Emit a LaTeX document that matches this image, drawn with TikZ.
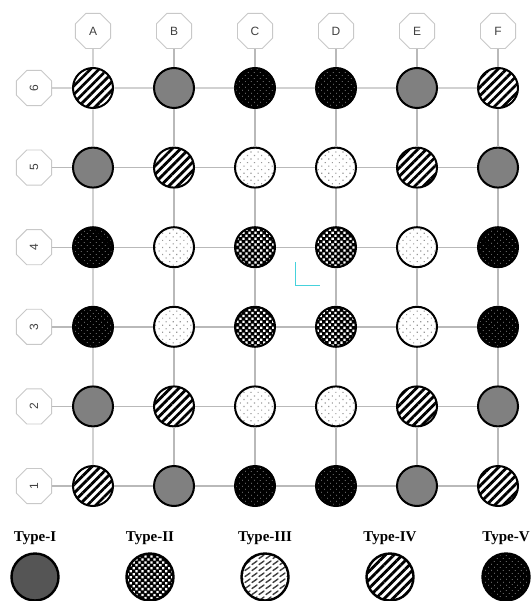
\documentclass[tikz,border=0pt]{standalone}
\usepackage{fontspec}
\setmainfont{Liberation Serif}
\setsansfont{Liberation Sans}
\usetikzlibrary{shapes.geometric,patterns,patterns.meta}
\definecolor{GridGrey}{RGB}{185,185,185}
\definecolor{LabelGrey}{RGB}{200,200,200}
\definecolor{PileGrey}{RGB}{128,128,128}
\definecolor{PileDark}{RGB}{85,85,85}
\definecolor{UcsCyan}{RGB}{70,210,220}
% short smeared strokes for the legend Type-III symbol
\pgfdeclarepatternformonly{smears}{\pgfqpoint{-1pt}{-1pt}}{\pgfqpoint{8pt}{7pt}}{\pgfqpoint{7pt}{6pt}}{%
  \pgfsetlinewidth{1.4pt}\pgfsetroundcap
  \pgfpathmoveto{\pgfqpoint{0pt}{0.5pt}}
  \pgfpathcurveto{\pgfqpoint{1.5pt}{3pt}}{\pgfqpoint{3pt}{1pt}}{\pgfqpoint{5pt}{4pt}}
  \pgfusepath{stroke}}
\tikzset{
  pile/.style={circle,draw=black,line width=2pt,minimum size=40pt,inner sep=0pt},
  axislbl/.style={regular polygon,regular polygon sides=8,draw=LabelGrey,line width=0.9pt,
                  minimum size=38pt,inner sep=0pt,text=black!75,
                  font=\sffamily\fontsize{12}{12}\selectfont},
  gridline/.style={GridGrey,line width=1.4pt},
  legendtxt/.style={font=\bfseries\fontsize{15}{15}\selectfont},
  typeI/.style={fill=PileGrey},
  typeII/.style={preaction={fill=black},pattern={Dots[distance=4.2pt,radius=1.6pt,angle=45]},pattern color=white},
  typeIII/.style={preaction={fill=white},pattern={Dots[distance=5pt,radius=0.8pt,angle=45]},pattern color=gray!80},
  typeIV/.style={preaction={fill=white},pattern={Lines[angle=45,distance=6pt,line width=2.8pt]},pattern color=black},
  typeV/.style={preaction={fill=black},pattern={Dots[distance=4pt,radius=0.5pt,angle=45]},pattern color=gray!70},
}
\begin{document}
\begin{tikzpicture}[x=1pt,y=-1pt]
  \useasboundingbox (0,0) rectangle (530,601);
  % Piles, one row at a time
  \foreach \r/\y/\types in {6/88/{IV,I,V,V,I,IV},5/167.6/{I,IV,III,III,IV,I},
                            4/247.2/{V,III,II,II,III,V},3/326.8/{V,III,II,II,III,V},
                            2/406.4/{I,IV,III,III,IV,I},1/486/{IV,I,V,V,I,IV}}{
    \foreach \t [count=\i] in \types
      \node[pile,type\t] (p\i\r) at ({12+81*\i},\y) {};
    \node[axislbl,rotate=90] (row\r) at (34,\y) {\r};
  }
  % Axis labels on top
  \foreach \c [count=\i] in {A,B,C,D,E,F}
    \node[axislbl] (col\i) at ({12+81*\i},31) {\c};
  % Grid lines
  \foreach \r in {1,...,6}
    \draw[gridline] (row\r) -- (p1\r) -- (p2\r) -- (p3\r) -- (p4\r) -- (p5\r) -- (p6\r);
  \foreach \i in {1,...,6}
    \draw[gridline] (col\i) -- (p\i6) -- (p\i5) -- (p\i4) -- (p\i3) -- (p\i2) -- (p\i1);
  % UCS marker
  \coordinate (ucsO) at (295,285);
  \coordinate (ucsY) at (295,262);
  \coordinate (ucsX) at (320,285);
  \draw[UcsCyan,line width=0.8pt] (ucsY) -- (ucsO) -- (ucsX);
  % Legend
  \foreach \t/\x in {I/35,II/150,III/265,IV/390,V/506}
    \node[legendtxt] (lbl\t) at (\x,538) {Type-\t};
  \node[pile,minimum size=47pt,line width=2.4pt,fill=PileDark] (legI) at (35,577) {};
  \node[pile,minimum size=47pt,line width=2.4pt,typeII] (legII) at (150,577) {};
  \node[pile,minimum size=47pt,line width=2.4pt,preaction={fill=white},pattern=smears,pattern color=black!75] (legIII) at (265,577) {};
  \node[pile,minimum size=47pt,line width=2.4pt,typeIV] (legIV) at (390,577) {};
  \node[pile,minimum size=47pt,line width=2.4pt,typeV] (legV) at (506,577) {};
\end{tikzpicture}
\end{document}
